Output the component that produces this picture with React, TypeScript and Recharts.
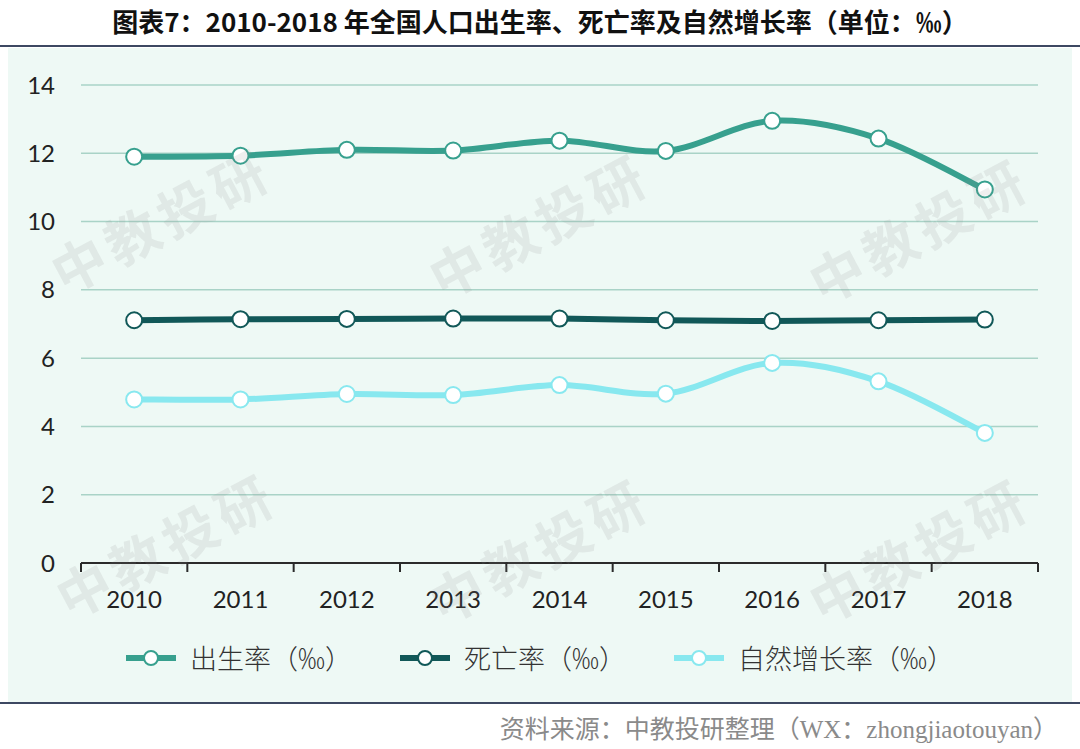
import React from 'react';
import { LineChart, Line, XAxis, YAxis, CartesianGrid } from 'recharts';

const years = ['2010', '2011', '2012', '2013', '2014', '2015', '2016', '2017', '2018'];
const birthRate = [11.9, 11.93, 12.1, 12.08, 12.37, 12.07, 12.95, 12.43, 10.94];
const deathRate = [7.11, 7.14, 7.15, 7.16, 7.16, 7.11, 7.09, 7.11, 7.13];
const growthRate = [4.79, 4.79, 4.95, 4.92, 5.21, 4.96, 5.86, 5.32, 3.81];
const yTicks = [0, 2, 4, 6, 8, 10, 12, 14];

const seriesNames = ['出生率（‰）', '死亡率（‰）', '自然增长率（‰）'];
const colors = ['#37a08e', '#115858', '#88e8ef'];

const data = years.map((year, i) => ({
  year,
  birth: birthRate[i],
  death: deathRate[i],
  growth: growthRate[i],
}));

// Excel-style smoothing (Catmull-Rom through the points)
const smoothCurve: any = (context: any) => {
  let pts: number[][] = [];
  return {
    areaStart() {},
    areaEnd() {},
    lineStart() {
      pts = [];
    },
    point(x: number, y: number) {
      pts.push([+x, +y]);
    },
    lineEnd() {
      if (!pts.length) return;
      context.moveTo(pts[0][0], pts[0][1]);
      for (let i = 0; i < pts.length - 1; i++) {
        const p0 = pts[i - 1] || pts[i];
        const p1 = pts[i];
        const p2 = pts[i + 1];
        const p3 = pts[i + 2] || p2;
        context.bezierCurveTo(
          p1[0] + (p2[0] - p0[0]) / 6,
          p1[1] + (p2[1] - p0[1]) / 6,
          p2[0] - (p3[0] - p1[0]) / 6,
          p2[1] - (p3[1] - p1[1]) / 6,
          p2[0],
          p2[1]
        );
      }
    },
  };
};

const CHART_W = 1064;
const MARGIN = { top: 35, right: 34, left: 0, bottom: 0 };
const Y_AXIS_W = 73;
const band = (CHART_W - MARGIN.right - Y_AXIS_W) / years.length;

const XTick = (props: any) => {
  const { x, y, payload, index } = props;
  const half = band / 2;
  return (
    <g>
      <line x1={x - half} y1={y - 8} x2={x - half} y2={y + 1} stroke="#2b2b2b" strokeWidth={2} />
      {index === years.length - 1 && (
        <line x1={x + half} y1={y - 8} x2={x + half} y2={y + 1} stroke="#2b2b2b" strokeWidth={2} />
      )}
      <text x={x} y={y + 27} textAnchor="middle" dominantBaseline="central" fontSize={24} fill="#222" fontFamily="Lato, 'Open Sans', sans-serif">
        {payload.value}
      </text>
    </g>
  );
};

const watermarks = [
  [160, 215], [538, 220], [918, 225],
  [165, 540], [538, 545], [918, 545],
];

const LegendIcon = ({ color }: { color: string }) => (
  <svg width={50} height={20} style={{ marginRight: 14 }}>
    <line x1={1} y1={10} x2={49} y2={10} stroke={color} strokeWidth={6} strokeLinecap="round" />
    <circle cx={25} cy={10} r={7} fill="#fff" stroke={color} strokeWidth={2} />
  </svg>
);

export default function App() {
  const keys = ['birth', 'death', 'growth'];
  return (
    <div style={{ position: 'absolute', left: 0, top: 0, width: 1080, height: 749, background: '#fff', overflow: 'hidden' }}>
      <div style={{ position: 'absolute', top: 2, width: 1080, textAlign: 'center', fontFamily: "'Noto Sans CJK SC', sans-serif", fontWeight: 700, fontSize: 26, color: '#111' }}>
        图表7：2010-2018 年全国人口出生率、死亡率及自然增长率（单位：‰）
      </div>
      <div style={{ position: 'absolute', top: 45, left: 0, width: 1080, height: 2, background: '#3d4862' }} />
      <div style={{ position: 'absolute', top: 48, left: 8, width: CHART_W, height: 654, background: '#eef9f5' }} />
      <div style={{ position: 'absolute', top: 50, left: 8 }}>
        <LineChart width={CHART_W} height={600} data={data} margin={MARGIN}>
          <CartesianGrid vertical={false} stroke="#a9d3c7" strokeWidth={1.5} />
          <XAxis
            dataKey="year"
            scale="band"
            height={87}
            axisLine={{ stroke: '#2b2b2b', strokeWidth: 2 }}
            tickLine={false}
            tick={<XTick />}
            interval={0}
          />
          <YAxis
            width={Y_AXIS_W}
            domain={[0, 14]}
            ticks={yTicks}
            axisLine={false}
            tickLine={false}
            tickSize={0}
            tickMargin={26}
            tick={{ fontSize: 24, fill: '#222', fontFamily: "Lato, 'Open Sans', sans-serif" }}
          />
          {keys.map((k, i) => (
            <Line
              key={k}
              dataKey={k}
              name={seriesNames[i]}
              type={smoothCurve}
              stroke={colors[i]}
              strokeWidth={6}
              dot={{ r: 8, fill: '#fff', stroke: colors[i], strokeWidth: 2 }}
              isAnimationActive={false}
            />
          ))}
        </LineChart>
      </div>
      {watermarks.map(([cx, cy], i) => (
        <div
          key={i}
          style={{
            position: 'absolute',
            left: cx - 150,
            top: cy - 36,
            width: 300,
            textAlign: 'center',
            fontSize: 54,
            fontWeight: 700,
            fontFamily: "'Noto Sans CJK SC', sans-serif",
            color: 'rgba(140,140,140,0.14)',
            transform: 'rotate(-28deg)',
            letterSpacing: 6,
            pointerEvents: 'none',
          }}
        >
          中教投研
        </div>
      ))}
      <div style={{ position: 'absolute', top: 638, left: 0, width: 1080, display: 'flex', justifyContent: 'center', alignItems: 'center', fontFamily: "'Noto Sans CJK SC', sans-serif", fontSize: 27, fontWeight: 300, color: '#333' }}>
        {seriesNames.map((n, i) => (
          <div key={n} style={{ display: 'flex', alignItems: 'center', marginRight: i < 2 ? 48 : 0 }}>
            <LegendIcon color={colors[i]} />
            <span>{n}</span>
          </div>
        ))}
      </div>
      <div style={{ position: 'absolute', top: 702, left: 0, width: 1080, height: 2, background: '#3d4862' }} />
      <div style={{ position: 'absolute', top: 709, right: 22, fontFamily: "'Liberation Serif', 'Noto Sans CJK SC', serif", fontSize: 25, color: '#8a8a8a' }}>
        资料来源：中教投研整理（WX：zhongjiaotouyan）
      </div>
    </div>
  );
}
